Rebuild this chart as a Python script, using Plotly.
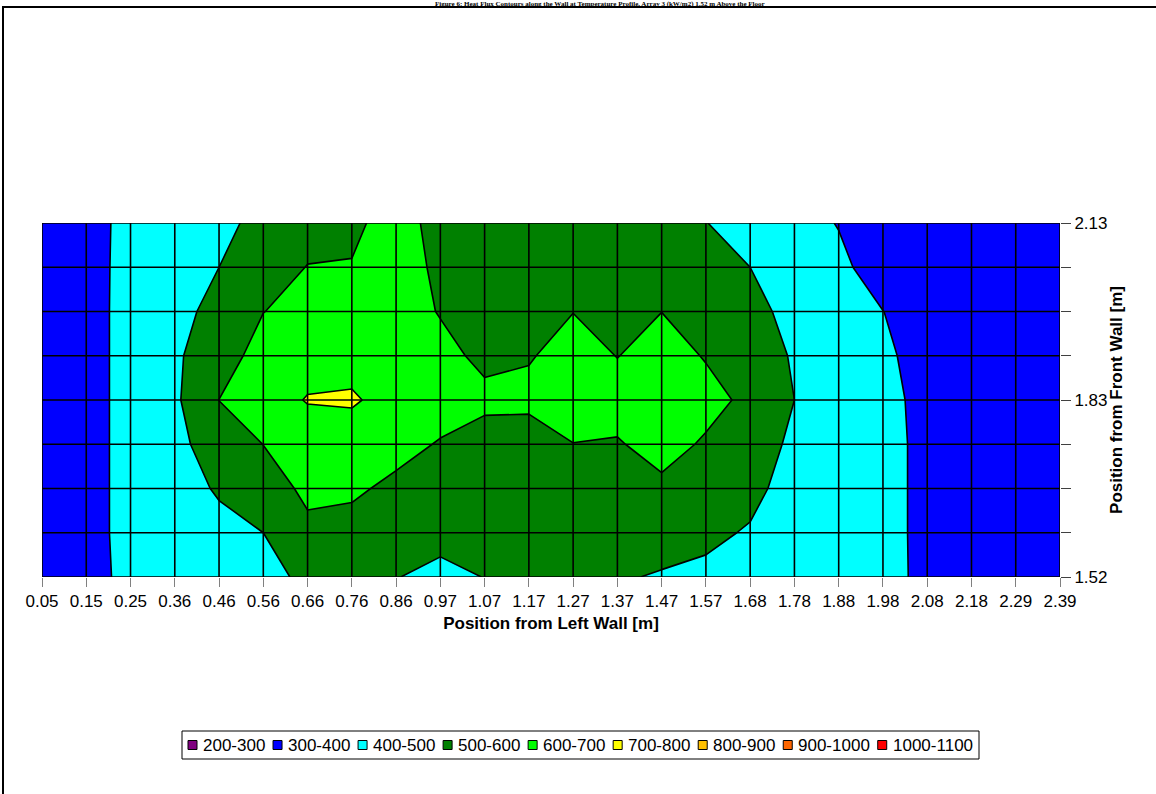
import plotly.graph_objects as go

# Grid positions (columns along the left wall distance, rows along the front wall distance)
X_LABELS = ["0.05", "0.15", "0.25", "0.36", "0.46", "0.56", "0.66", "0.76", "0.86", "0.97",
            "1.07", "1.17", "1.27", "1.37", "1.47", "1.57", "1.68", "1.78", "1.88", "1.98",
            "2.08", "2.18", "2.29", "2.39"]
Y_LABELS = ["1.52", "1.60", "1.68", "1.75", "1.83", "1.91", "1.98", "2.06", "2.13"]
Y_SHOWN = ["1.52", "1.83", "2.13"]

# Measured heat flux, one list per row from 1.52 m (bottom) to 2.13 m (top)
ROW_152 = [345, 376, 418, 430, 450, 470, 520, 520, 503, 475, 502, 520, 520, 510, 491, 470, 450, 440, 430, 420, 385, 355, 345, 340]
ROW_160 = [345, 378, 420, 440, 460, 500, 582, 557, 545, 530, 540, 545, 550, 550, 545, 530, 487, 450, 430, 425, 380, 355, 345, 340]
ROW_168 = [345, 378, 420, 440, 515, 560, 617, 620, 573, 560, 545, 545, 560, 555, 575, 560, 540, 440, 430, 425, 380, 355, 345, 340]
ROW_175 = [345, 378, 420, 478, 540, 601, 650, 655, 640, 591, 540, 525, 598, 590, 645, 585, 560, 477, 440, 425, 380, 355, 345, 340]
ROW_183 = [345, 378, 420, 484, 601, 660, 705, 710, 667, 655, 632, 635, 660, 650, 660, 640, 572, 500, 460, 420, 380, 355, 345, 340]
ROW_191 = [345, 378, 420, 490, 540, 650, 665, 670, 665, 640, 569, 590, 650, 597, 650, 592, 560, 489, 450, 420, 358, 350, 345, 340]
ROW_198 = [345, 378, 420, 470, 530, 598, 640, 670, 665, 592, 575, 580, 598, 585, 599, 570, 540, 460, 425, 401, 360, 350, 345, 340]
ROW_206 = [340, 377, 420, 460, 500, 550, 603, 605, 660, 574, 570, 575, 585, 575, 580, 550, 500, 460, 420, 358, 350, 345, 345, 340]
ROW_213 = [340, 375, 420, 455, 480, 522, 560, 580, 640, 567, 565, 560, 555, 550, 540, 502, 460, 435, 396, 380, 370, 365, 360, 355]
Z = [ROW_152, ROW_160, ROW_168, ROW_175, ROW_183, ROW_191, ROW_198, ROW_206, ROW_213]

# Contour bands
BAND_LABELS = ["200-300", "300-400", "400-500", "500-600", "600-700",
               "700-800", "800-900", "900-1000", "1000-1100"]
BAND_COLORS = ["#800080", "#0000FF", "#00FFFF", "#008000", "#00FF00",
               "#FFFF00", "#FFC000", "#FF6600", "#FF0000"]
LEVEL_START, LEVEL_END, LEVEL_STEP = 200, 1100, 100

TITLE = "Figure 6: Heat Flux Contours along the Wall at Temperature Profile, Array 3 (kW/m2) 1.52 m Above the Floor"

W, H = 1156, 794
ML, MR, MT, MB = 42, 96, 223, 217
PW, PH = W - ML - MR, H - MT - MB

xs = list(range(len(X_LABELS)))
ys = list(range(len(Y_LABELS)))

# Stepped colour scale: band k is sampled at its midpoint (start + (k + 0.5) * step)
ext = [BAND_COLORS[0]] + BAND_COLORS + [BAND_COLORS[-1]]
n = len(ext) - 1
colorscale = []
for k, c in enumerate(ext):
    lo = max(0.0, (k - 0.5) / n)
    hi = min(1.0, (k + 0.5) / n)
    colorscale.append([lo, c])
    colorscale.append([hi, c])

fig = go.Figure()
fig.add_trace(go.Contour(
    x=xs, y=ys, z=Z,
    autocontour=False,
    contours=dict(start=LEVEL_START, end=LEVEL_END, size=LEVEL_STEP, coloring="fill"),
    colorscale=colorscale,
    showscale=False,
    line=dict(color="black", width=1.6, smoothing=0),
    hoverinfo="skip",
))

# Cell grid drawn over the filled bands
gx, gy = [], []
for i in xs:
    gx += [i, i, None]
    gy += [ys[0], ys[-1], None]
for j in ys:
    gx += [xs[0], xs[-1], None]
    gy += [j, j, None]
fig.add_trace(go.Scatter(x=gx, y=gy, mode="lines", line=dict(color="black", width=1.6),
                         hoverinfo="skip", showlegend=False))

font = "Liberation Sans, Arial, sans-serif"

def px_to_paper_x(px):
    return (px - ML) / PW

def px_to_paper_y(py):
    return (H - MB - py) / PH

shapes = []
annotations = []

# Outer chart frame
shapes.append(dict(type="rect", xref="paper", yref="paper",
                   x0=px_to_paper_x(3), x1=px_to_paper_x(1170),
                   y0=px_to_paper_y(810), y1=px_to_paper_y(7),
                   line=dict(color="black", width=2), fillcolor="rgba(0,0,0,0)", layer="below"))

# Title squeezed into the strip above the frame
annotations.append(dict(text="<b>" + TITLE + "</b>", xref="paper", yref="paper",
                        x=px_to_paper_x(600), y=px_to_paper_y(-1.5), xanchor="center", yanchor="top",
                        borderpad=0, showarrow=False,
                        font=dict(family="Liberation Serif, Times New Roman, serif", size=7, color="black")))

# Legend row with boxed colour keys
LEG_FONT = 17
box_l, box_r, box_t, box_b = 182, 979, 731, 759
cy = (box_t + box_b) / 2
def text_w(s):
    return sum(0.556 if ch.isdigit() else 0.333 for ch in s) * LEG_FONT
widths = [9 + 5 + text_w(s) for s in BAND_LABELS]
gap = (box_r - box_l - 12 - sum(widths)) / (len(BAND_LABELS) - 1)
x = box_l + 6
shapes.append(dict(type="rect", xref="paper", yref="paper",
                   x0=px_to_paper_x(box_l), x1=px_to_paper_x(box_r),
                   y0=px_to_paper_y(box_b), y1=px_to_paper_y(box_t),
                   line=dict(color="black", width=1), fillcolor="white"))
for lab, col, w in zip(BAND_LABELS, BAND_COLORS, widths):
    shapes.append(dict(type="rect", xref="paper", yref="paper",
                       x0=px_to_paper_x(x), x1=px_to_paper_x(x + 9),
                       y0=px_to_paper_y(cy + 4.5), y1=px_to_paper_y(cy - 4.5),
                       line=dict(color="black", width=1), fillcolor=col))
    annotations.append(dict(text=lab, xref="paper", yref="paper",
                            x=px_to_paper_x(x + 13), y=px_to_paper_y(cy), xanchor="left", yanchor="middle",
                            showarrow=False, font=dict(family=font, size=LEG_FONT, color="black")))
    x += w + gap

fig.update_layout(
    width=W, height=H,
    margin=dict(l=ML, r=MR, t=MT, b=MB, autoexpand=False),
    paper_bgcolor="white", plot_bgcolor="white",
    showlegend=False,
    font=dict(family=font, size=17, color="black"),
    shapes=shapes,
    annotations=annotations,
    xaxis=dict(range=[xs[0], xs[-1]], tickvals=xs, ticktext=X_LABELS, ticks="outside",
               ticklen=9, tickwidth=1, tickcolor="#808080", showgrid=False, zeroline=False,
               showline=False, tickfont=dict(size=17),
               title=dict(text="<b>Position from Left Wall [m]</b>", font=dict(size=17), standoff=6)),
    yaxis=dict(range=[ys[0], ys[-1]], side="right", tickvals=ys,
               ticktext=[s if s in Y_SHOWN else "" for s in Y_LABELS], ticks="outside",
               ticklen=10, tickwidth=1, tickcolor="#404040", showgrid=False, zeroline=False,
               showline=False, tickfont=dict(size=17),
               title=dict(text="<b>Position from Front Wall [m]</b>", font=dict(size=17), standoff=2)),
)

fig.write_html("out.html")
